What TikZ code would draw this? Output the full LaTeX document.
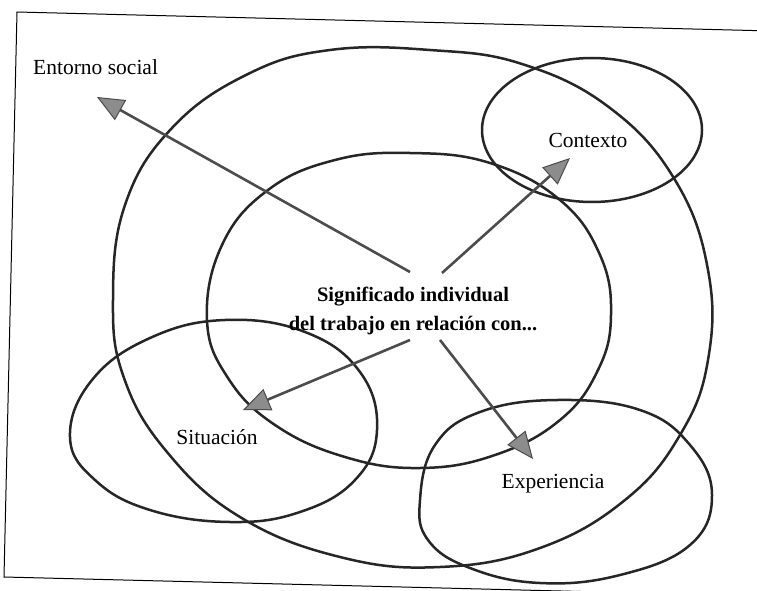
\documentclass[tikz,border=0pt]{standalone}
\usepackage{fontspec}
\setmainfont{Liberation Serif}
\usetikzlibrary{arrows.meta}
\begin{document}
\begin{tikzpicture}[x=1pt,y=-1pt,
  ring/.style={draw=black!85,line width=2.5pt},
  frameline/.style={draw=black,line width=1pt},
  lbl/.style={font=\fontsize{21.5}{25}\selectfont,inner sep=0pt},
  ctr/.style={font=\bfseries\fontsize{20.5}{29}\selectfont,align=center,inner sep=0pt},
  arr/.style={draw=black!70,line width=2.6pt,
    -{Triangle[length=27pt,width=23pt,fill=black!45,line width=1pt]}}]
\useasboundingbox (0,0) rectangle (757,591);
% frame
\draw[frameline] (772,31) -- (17,12) -- (4,577) -- (760,596);
% outer ellipse (Entorno social)
\draw[ring] plot[smooth cycle,tension=0.7] coordinates {
 (113,300) (125,205) (172,128) (248,74) (330,50) (430,50) (522,64) (610,108)
 (675,180) (708,270) (708,360) (680,435) (625,500) (540,548) (440,567)
 (340,557) (240,517) (167,452) (124,378)};
% middle circle
\draw[ring] plot[smooth cycle,tension=0.7] coordinates {
 (207,320) (222,245) (268,190) (335,160) (410,153) (490,163) (560,200)
 (600,255) (611,315) (598,370) (560,420) (495,455) (420,468) (345,457)
 (275,425) (228,378)};
% Contexto
\draw[ring] (592,130) ellipse [x radius=110, y radius=72];
% Situacion
\draw[ring] plot[smooth cycle,tension=0.7] coordinates {
 (70,437) (92,380) (150,338) (225,320) (305,332) (360,372) (377,430)
 (355,480) (300,512) (230,522) (150,510) (95,480)};
% Experiencia
\draw[ring] plot[smooth cycle,tension=0.7] coordinates {
 (420,500) (435,445) (480,412) (557,400) (640,410) (690,445) (712,495)
 (690,545) (620,575) (540,583) (470,568) (428,540)};
% texts
\node[ctr] (c) at (413,311) {Significado individual\\del trabajo en relación con...};
\node[lbl,anchor=west] (ent) at (33,67) {Entorno social};
\node[lbl] (con) at (588,140) {Contexto};
\node[lbl] (sit) at (217,437) {Situación};
\node[lbl] (exp) at (553,484) {Experiencia};
% arrow ends
\coordinate (t1) at (410,272); \coordinate (h1) at (97,97);
\coordinate (t2) at (442,273); \coordinate (h2) at (570,158);
\coordinate (t3) at (410,340); \coordinate (h3) at (243,410);
\coordinate (t4) at (440,340); \coordinate (h4) at (533,459);
\draw[arr] (t1) -- (h1);
\draw[arr] (t2) -- (h2);
\draw[arr] (t3) -- (h3);
\draw[arr] (t4) -- (h4);
\end{tikzpicture}
\end{document}
